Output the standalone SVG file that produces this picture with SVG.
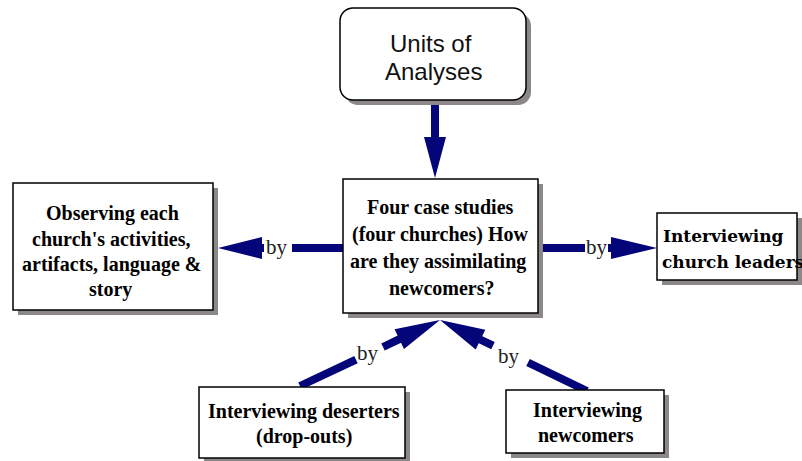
<svg xmlns="http://www.w3.org/2000/svg" width="802" height="461" viewBox="0 0 802 461">
<rect width="802" height="461" fill="#fff"/>
<g id="connectors" stroke="#05057a" stroke-width="8" fill="#05057a">
  <line x1="435" y1="104" x2="435" y2="140"/>
  <polygon stroke="none" points="424,137 446,137 435,178"/>
  <line x1="343" y1="248" x2="292" y2="248"/>
  <polygon stroke="none" points="264,244 262,244 262,237 218,248 262,259 262,252 264,252"/>
  <line x1="538" y1="248" x2="585" y2="248"/>
  <polygon stroke="none" points="608,244 611,244 611,237 657,248 611,259 611,252 608,252"/>
  <line x1="300" y1="386" x2="356" y2="359.6"/>
  <line x1="383" y1="347" x2="401" y2="338.4"/>
  <polygon stroke="none" points="404,349.1 394.6,329.3 440,320"/>
  <line x1="587" y1="391" x2="528" y2="362.5"/>
  <line x1="493" y1="345.7" x2="479" y2="339"/>
  <polygon stroke="none" points="485.3,329.7 475.7,349.5 440,320"/>
</g>
<g id="labels">
  <text fill="#222" font-family="Times New Roman" font-size="21" x="266" y="254">by</text>
  <text fill="#222" font-family="Times New Roman" font-size="21" x="586" y="254">by</text>
  <text fill="#222" font-family="Times New Roman" font-size="21" x="357" y="360">by</text>
  <text fill="#222" font-family="Times New Roman" font-size="21" x="498" y="363">by</text>
</g>
<g id="units">
  <rect fill="#8c8888" x="345" y="13" width="186" height="92" rx="13"/>
  <rect fill="#fff" stroke="#000" stroke-width="1.5" x="340" y="8" width="186" height="92" rx="13"/>
  <text fill="#111" font-family="Liberation Sans" font-size="24" x="390" y="52">Units of</text>
  <text fill="#111" font-family="Liberation Sans" font-size="24" x="385" y="80">Analyses</text>
</g>
<g id="center">
  <rect fill="#8c8888" x="348" y="184" width="195" height="134"/>
  <rect fill="#fff" stroke="#000" stroke-width="1.5" x="343" y="179" width="195" height="134"/>
  <text font-family="Times New Roman" font-weight="bold" font-size="20" x="367" y="214">Four case studies</text>
  <text font-family="Times New Roman" font-weight="bold" font-size="20" x="352" y="241">(four churches) How</text>
  <text font-family="Times New Roman" font-weight="bold" font-size="20" x="350" y="268">are they assimilating</text>
  <text font-family="Times New Roman" font-weight="bold" font-size="20" x="389" y="295">newcomers?</text>
</g>
<g id="observe">
  <rect fill="#8c8888" x="18" y="188" width="200" height="127"/>
  <rect fill="#fff" stroke="#000" stroke-width="1.5" x="13" y="183" width="200" height="127"/>
  <text font-family="Liberation Serif" font-weight="bold" font-size="20" x="46" y="220">Observing each</text>
  <text font-family="Liberation Serif" font-weight="bold" font-size="20" x="32" y="246">church's activities,</text>
  <text font-family="Liberation Serif" font-weight="bold" font-size="20" x="22" y="271">artifacts, language &amp;</text>
  <text font-family="Liberation Serif" font-weight="bold" font-size="20" x="89" y="296">story</text>
</g>
<g id="leaders">
  <rect fill="#8c8888" x="662" y="218" width="140" height="67"/>
  <rect fill="#fff" stroke="#000" stroke-width="1.5" x="657" y="213" width="140" height="67"/>
  <text font-family="DejaVu Serif" font-weight="bold" font-size="17" x="663" y="242">Interviewing</text>
  <text font-family="DejaVu Serif" font-weight="bold" font-size="17" x="662" y="268">church leaders</text>
</g>
<g id="deserters">
  <rect fill="#8c8888" x="204" y="392" width="206" height="71"/>
  <rect fill="#fff" stroke="#000" stroke-width="1.5" x="199" y="387" width="206" height="71"/>
  <text font-family="serif" font-weight="bold" font-size="20" x="208" y="418">Interviewing deserters</text>
  <text font-family="serif" font-weight="bold" font-size="20" x="256" y="443">(drop-outs)</text>
</g>
<g id="newcomers">
  <rect fill="#8c8888" x="511" y="395" width="158" height="63"/>
  <rect fill="#fff" stroke="#000" stroke-width="1.5" x="506" y="390" width="158" height="63"/>
  <text font-family="Liberation Serif" font-weight="bold" font-size="20" x="533" y="417">Interviewing</text>
  <text font-family="Liberation Serif" font-weight="bold" font-size="20" x="538" y="442">newcomers</text>
</g>
</svg>
